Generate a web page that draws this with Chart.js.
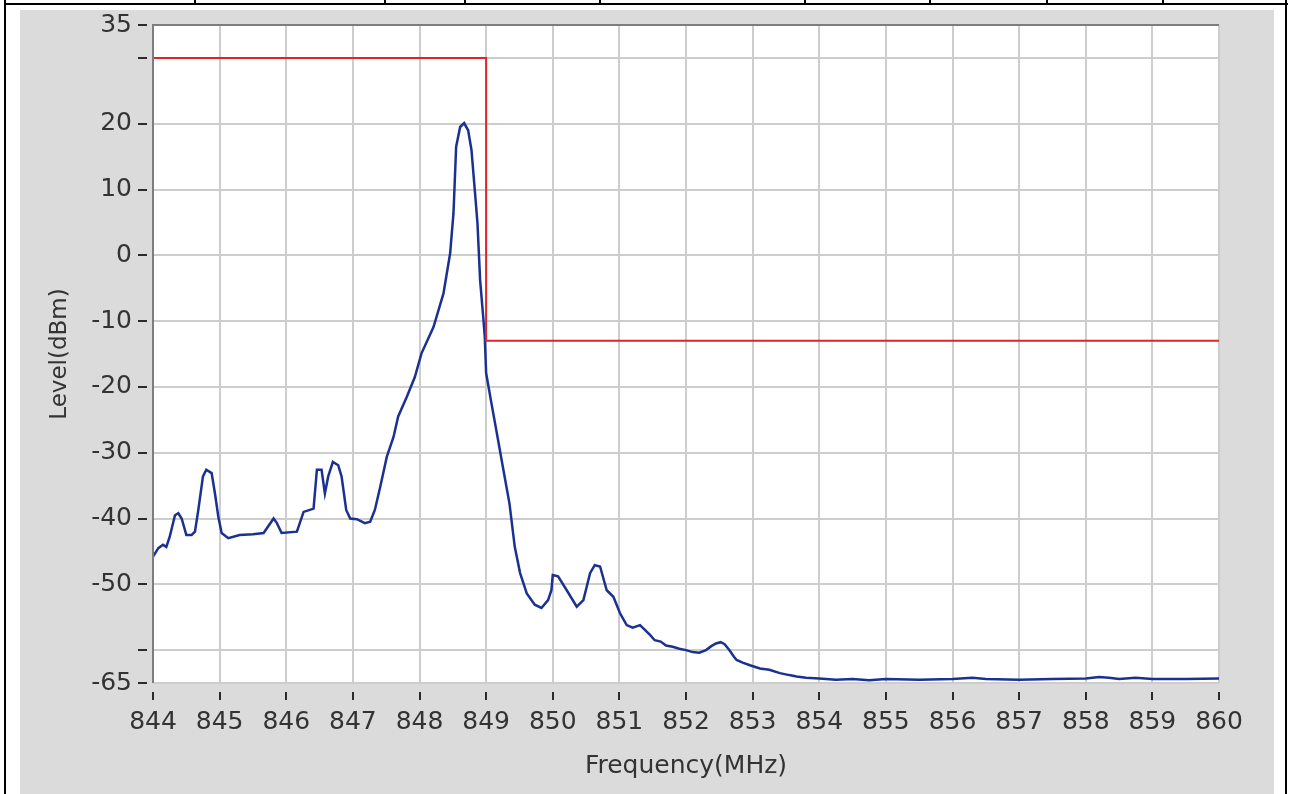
<!DOCTYPE html>
<html lang="en">
  <head>
    <meta charset="UTF-8" />
    <title>Spectrum</title>
    <script src="https://cdn.jsdelivr.net/npm/chart.js"></script>
    <style>
      body { margin: 0; width: 1290px; height: 794px; background: #fff; position: relative; overflow: hidden; }
      #panel { position: absolute; left: 20px; top: 10px; width: 1254px; height: 784px; background: #dbdbdb; }
      .rule { position: absolute; background: #000; }
    </style>
  </head>
  <body>
    <!-- table borders around the picture -->
    <div class="rule" style="left:4px;top:3px;width:1284px;height:2px"></div>
    <div class="rule" style="left:4px;top:0;width:2px;height:794px"></div>
    <div class="rule" style="left:1285px;top:0;width:2px;height:794px"></div>
    <div class="rule" style="left:194px;top:0;width:2px;height:4px"></div>
    <div class="rule" style="left:384px;top:0;width:2px;height:4px"></div>
    <div class="rule" style="left:464px;top:0;width:2px;height:4px"></div>
    <div class="rule" style="left:599px;top:0;width:2px;height:4px"></div>
    <div class="rule" style="left:804px;top:0;width:2px;height:4px"></div>
    <div class="rule" style="left:929px;top:0;width:2px;height:4px"></div>
    <div class="rule" style="left:1046px;top:0;width:2px;height:4px"></div>
    <div class="rule" style="left:1162px;top:0;width:2px;height:4px"></div>
    <div id="panel"><canvas id="myChart" width="1254" height="784"></canvas></div>
    <script>
      // measured trace (MHz / dBm)
      const freq = [
        844.0, 844.08, 844.15, 844.2, 844.25, 844.33, 844.38, 844.43, 844.5, 844.58,
        844.63, 844.68, 844.75, 844.8, 844.88, 844.93, 844.98, 845.03, 845.13, 845.3,
        845.5, 845.66, 845.81, 845.86, 845.93, 846.16, 846.26, 846.41, 846.46, 846.53,
        846.58, 846.63, 846.7, 846.78, 846.83, 846.9, 846.96, 847.06, 847.18, 847.26,
        847.33, 847.41, 847.51, 847.61, 847.68, 847.81, 847.93, 848.03, 848.21, 848.36,
        848.46, 848.51, 848.55, 848.61, 848.67, 848.73, 848.78, 848.83, 848.87, 848.91,
        848.96, 848.98, 849.0, 849.08, 849.18, 849.25, 849.35, 849.43, 849.51, 849.61,
        849.73, 849.83, 849.93, 849.98, 850.0, 850.08, 850.21, 850.36, 850.46, 850.56,
        850.63, 850.71, 850.81, 850.91, 851.01, 851.11, 851.2, 851.31, 851.46, 851.53,
        851.62, 851.7, 851.8, 851.9, 852.0, 852.1, 852.2, 852.3, 852.38, 852.45,
        852.52, 852.58, 852.65, 852.72, 852.76, 852.85, 852.96, 853.11, 853.25, 853.41,
        853.55, 853.66, 853.8, 854.0, 854.25, 854.5, 854.75, 855.0, 855.5, 856.0,
        856.3, 856.5, 857.0, 857.5, 858.0, 858.2, 858.35, 858.5, 858.75, 859.0,
        859.5, 860.0
      ];
      const level = [
        -45.8, -44.5, -44.0, -44.3, -42.8, -39.5, -39.2, -40.0, -42.5, -42.5,
        -42.0, -38.7, -33.6, -32.6, -33.1, -36.2, -39.7, -42.2, -43.0, -42.5,
        -42.4, -42.2, -40.0, -40.7, -42.2, -42.0, -39.0, -38.5, -32.6, -32.6,
        -36.2, -33.6, -31.4, -31.9, -33.6, -38.7, -40.0, -40.1, -40.7, -40.5,
        -38.7, -35.2, -30.6, -27.6, -24.5, -21.5, -18.5, -14.9, -10.9, -5.8,
        0.3, 6.4, 16.5, 19.5, 20.1, 19.0, 16.0, 9.9, 4.9, -3.8,
        -9.8, -12.4, -17.9, -22.5, -28.1, -32.1, -37.7, -44.3, -48.3, -51.4,
        -53.1, -53.6, -52.4, -50.9, -48.6, -48.8, -50.9, -53.4, -52.4, -48.3,
        -47.1, -47.3, -50.9, -51.9, -54.4, -56.2, -56.6, -56.2, -57.7, -58.5,
        -58.7, -59.3, -59.5, -59.8, -60.0, -60.3, -60.4, -60.0, -59.4, -59.0,
        -58.8, -59.1, -60.0, -61.0, -61.5, -61.9, -62.3, -62.8, -63.0, -63.5,
        -63.8, -64.0, -64.2, -64.3, -64.5, -64.4, -64.6, -64.4, -64.5, -64.4,
        -64.2, -64.4, -64.5, -64.4, -64.3, -64.1, -64.2, -64.4, -64.2, -64.4,
        -64.4, -64.3
      ];
      // limit mask
      const limitFreq = [844, 849, 849, 860];
      const limitLevel = [30, 30, -13, -13];
      const yTicks = [35, 30, 20, 10, 0, -10, -20, -30, -40, -50, -60, -65];
      const hiddenLabels = [30, -60];

      const tickFont = { family: "DejaVu Sans", size: 25, lineHeight: 1.2 };

      // white plot background + short tick marks detached from the axes
      const plotDeco = {
        id: "plotDeco",
        beforeDraw(chart) {
          const a = chart.chartArea;
          const c = chart.ctx;
          c.save();
          c.fillStyle = "#ffffff";
          c.fillRect(a.left, a.top, a.right - a.left, a.bottom - a.top);
          c.restore();
        },
        afterDraw(chart) {
          const a = chart.chartArea;
          const c = chart.ctx;
          const xs = chart.scales.x;
          const ys = chart.scales.y;
          c.save();
          c.strokeStyle = "#2b2b2b";
          c.lineWidth = 2;
          c.beginPath();
          ys.ticks.forEach((t) => {
            const y = Math.round(ys.getPixelForValue(t.value));
            c.moveTo(a.left - 15, y);
            c.lineTo(a.left - 6, y);
          });
          xs.ticks.forEach((t) => {
            const x = Math.round(xs.getPixelForValue(t.value));
            c.moveTo(x, a.bottom + 9);
            c.lineTo(x, a.bottom + 17);
          });
          c.stroke();
          // sunken frame: dark on top and left
          c.strokeStyle = "#7d7d7d";
          c.beginPath();
          c.moveTo(a.left, a.bottom);
          c.lineTo(a.left, a.top);
          c.lineTo(a.right, a.top);
          c.stroke();
          c.restore();
        },
      };

      const ctx = document.getElementById("myChart").getContext("2d");
      const myChart = new Chart(ctx, {
        type: "line",
        data: {
          datasets: [
            {
              label: "Limit",
              data: limitFreq.map((f, i) => ({ x: f, y: limitLevel[i] })),
              borderColor: "#e0242c",
              borderWidth: 2,
              pointRadius: 0,
            },
            {
              label: "Level",
              data: freq.map((f, i) => ({ x: f, y: level[i] })),
              borderColor: "#1b3191",
              borderWidth: 2.5,
              pointRadius: 0,
            },
          ],
        },
        options: {
          responsive: false,
          animation: false,
          layout: { padding: { left: 0, top: 15, right: 55, bottom: 0 } },
          plugins: { legend: { display: false }, tooltip: { enabled: false } },
          scales: {
            x: {
              type: "linear",
              min: 844,
              max: 860,
              afterFit: (s) => {
                s.height = 111;
                s.paddingLeft = 0;
                s.paddingRight = 0;
              },
              ticks: { stepSize: 1, color: "#333", font: tickFont, padding: 24, maxRotation: 0 },
              grid: { color: "#cdcdcd", lineWidth: 2, drawTicks: false },
              border: { display: false },
              title: {
                display: true,
                text: "Frequency(MHz)",
                color: "#333",
                font: { family: "DejaVu Sans", size: 25 },
                padding: { top: 0, bottom: 13 },
              },
            },
            y: {
              min: -65,
              max: 35,
              afterFit: (s) => {
                s.width = 133;
                s.paddingTop = 0;
                s.paddingBottom = 0;
              },
              afterBuildTicks: (s) => { s.ticks = yTicks.map((v) => ({ value: v })); },
              ticks: {
                color: "#333",
                font: tickFont,
                padding: 21,
                callback: (v) => (hiddenLabels.includes(v) ? "" : v),
              },
              grid: { color: "#cdcdcd", lineWidth: 2, drawTicks: false },
              border: { display: false },
              title: {
                display: true,
                text: "Level(dBm)",
                color: "#333",
                font: { family: "DejaVu Sans", size: 23 },
                padding: { top: 26, bottom: 0 },
              },
            },
          },
        },
        plugins: [plotDeco],
      });
    </script>
  </body>
</html>
